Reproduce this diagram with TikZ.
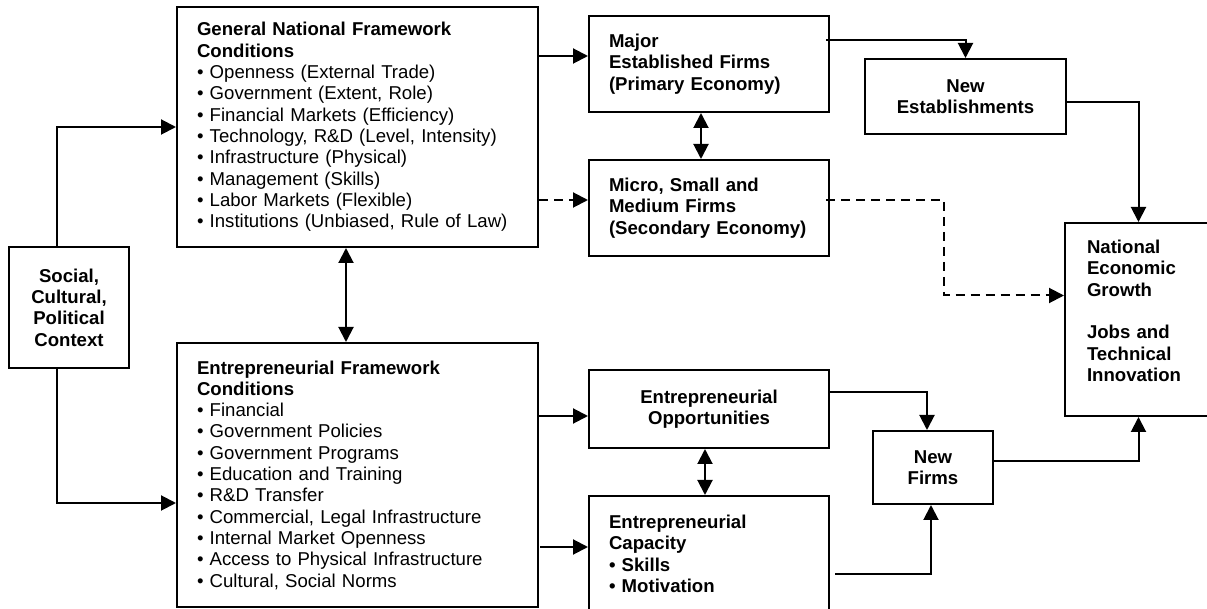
\documentclass[tikz,border=0pt]{standalone}
\usepackage{fontspec}
\setmainfont{Liberation Sans}
\usetikzlibrary{arrows.meta}

\begin{document}
\begin{tikzpicture}[x=0.5pt, y=-0.5pt,
    box/.style={draw, line width=1pt, inner ysep=0pt, font=\fontsize{9.3pt}{10.65pt}\selectfont},
    lbox/.style={box, align=left, inner xsep=10pt},
    cbox/.style={box, align=center},
    arr/.style={line width=1pt, -{Triangle[length=7.5pt, width=7.5pt]}},
    dbl/.style={line width=1pt, {Triangle[length=7.5pt, width=7.5pt]}-{Triangle[length=7.5pt, width=7.5pt]}},
    dashline/.style={dash pattern=on 4.5pt off 3pt}]

    \useasboundingbox (0,0) rectangle (1207,609);

    % Draw nodes
    \node[cbox, minimum width=60pt, minimum height=60.5pt] (social) at (69,307.5)
        {\textbf{Social,}\\\textbf{Cultural,}\\\textbf{Political}\\\textbf{Context}};
    \node[lbox, text width=160.5pt, minimum height=120pt] (gnfc) at (357.5,127)
        {\textbf{General National Framework}\\\textbf{Conditions}\\
         • Openness (External Trade)\\
         • Government (Extent, Role)\\
         • Financial Markets (Efficiency)\\
         • Technology, R\&D (Level, Intensity)\\
         • Infrastructure (Physical)\\
         • Management (Skills)\\
         • Labor Markets (Flexible)\\
         • Institutions (Unbiased, Rule of Law)};
    \node[lbox, text width=160.5pt, minimum height=132pt] (efc) at (357.5,475)
        {\textbf{Entrepreneurial Framework}\\\textbf{Conditions}\\
         • Financial\\
         • Government Policies\\
         • Government Programs\\
         • Education and Training\\
         • R\&D Transfer\\
         • Commercial, Legal Infrastructure\\
         • Internal Market Openness\\
         • Access to Physical Infrastructure\\
         • Cultural, Social Norms};
    \node[lbox, text width=100pt, minimum height=48pt] (major) at (709,64)
        {\textbf{Major}\\\textbf{Established Firms}\\\textbf{(Primary Economy)}};
    \node[lbox, text width=100pt, minimum height=48pt] (micro) at (709,208)
        {\textbf{Micro, Small and}\\\textbf{Medium Firms}\\\textbf{(Secondary Economy)}};
    \node[cbox, minimum width=120pt, minimum height=39pt] (opp) at (709,409)
        {\textbf{Entrepreneurial}\\\textbf{Opportunities}};
    \node[lbox, text width=100pt, minimum height=58pt] (cap) at (709,554)
        {\textbf{Entrepreneurial}\\\textbf{Capacity}\\\textbf{• Skills}\\\textbf{• Motivation}};
    \node[cbox, minimum width=100.5pt, minimum height=37.5pt] (newest) at (965.5,96.5)
        {\textbf{New}\\\textbf{Establishments}};
    \node[cbox, minimum width=60pt, minimum height=36.5pt] (nf) at (933,467.5)
        {\textbf{New}\\\textbf{Firms}};
    \node[lbox, inner xsep=11pt, text width=51.5pt, minimum height=96.5pt] (neg) at (1138.5,319.5)
        {\textbf{National}\\\textbf{Economic}\\\textbf{Growth}\\[10.65pt]
         \textbf{Jobs and}\\\textbf{Technical}\\\textbf{Innovation}\\[-2pt]\mbox{}};

    \coordinate (majin) at ([yshift=4pt]major.west);
    \coordinate (micin) at ([yshift=4pt]micro.west);
    \coordinate (majout) at ([xshift=-2pt, yshift=12pt]major.east);
    \coordinate (micout) at ([xshift=-2pt, yshift=4pt]micro.east);
    \coordinate (negin) at ([yshift=12pt]neg.west);
    \coordinate (oppin) at ([yshift=-3.5pt]opp.west);
    \coordinate (capin) at ([yshift=3.5pt]cap.west);

    % Draw edges
    \draw[arr] ([xshift=-6pt]social.north) |- (gnfc.west);
    \draw[arr] ([xshift=-6pt]social.south) |- ([yshift=-14pt]efc.west);
    \draw[dbl] ([xshift=-5.75pt]gnfc.south) -- ([xshift=-5.75pt]efc.north);
    \draw[arr] (gnfc.east |- majin) -- (majin);
    \draw[arr, dashline] (gnfc.east |- micin) -- (micin);
    \draw[dbl] ([xshift=-4pt]major.south) -- ([xshift=-4pt]micro.north);
    \draw[arr] (majout) -| (newest.north);
    \draw[arr] ([yshift=-3pt]newest.east) -| (neg.north);
    \draw[arr, dashline] (micout) -| ([xshift=-60pt]negin) -- (negin);
    \draw[arr] (efc.east |- oppin) -- (oppin);
    \draw[arr] ([xshift=-24pt]capin) -- (capin);
    \draw[dbl] ([xshift=-2pt]opp.south) -- ([xshift=-2pt]cap.north);
    \draw[arr] ([yshift=8.5pt]opp.east) -| ([xshift=-3pt]nf.north);
    \draw[arr] ([xshift=2.5pt, yshift=-10pt]cap.east) -| ([xshift=-1pt]nf.south);
    \draw[arr] ([yshift=3pt]nf.east) -| (neg.south);
\end{tikzpicture}
\end{document}
